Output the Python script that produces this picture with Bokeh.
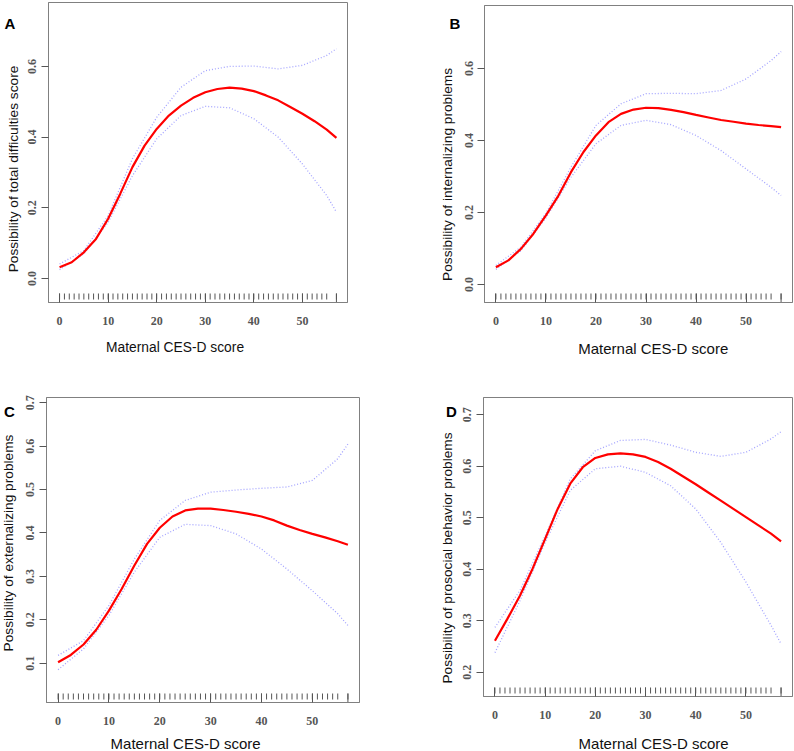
import math
from bokeh.plotting import figure
from bokeh.models import Range1d, FixedTicker, PrintfTickFormatter
from bokeh.layouts import column, row
from bokeh.core.properties import value
from bokeh.embed import file_html
from bokeh.resources import INLINE

# ---------------- data ----------------
x_fit = [0, 2.5, 5, 7.5, 10, 12.5, 15, 17.5, 20, 22.5, 25, 27.5, 30, 32.5,
         35, 37.5, 40, 42.5, 45, 47.5, 50, 52.5, 55, 57]
x_ci = [0, 5, 10, 15, 20, 25, 30, 35, 40, 45, 50, 55, 57]
rug_x = list(range(0, 56)) + [57]
x_ticks = [0, 10, 20, 30, 40, 50]

A_fit = [0.032, 0.046, 0.074, 0.112, 0.169, 0.240, 0.315, 0.376, 0.423, 0.461, 0.489, 0.511,
         0.527, 0.536, 0.540, 0.537, 0.530, 0.518, 0.504, 0.485, 0.466, 0.445, 0.421, 0.398]
A_hi = [0.041, 0.079, 0.178, 0.339, 0.456, 0.541, 0.588, 0.600, 0.601, 0.593, 0.603, 0.631, 0.650]
A_lo = [0.025, 0.070, 0.159, 0.291, 0.395, 0.461, 0.487, 0.483, 0.452, 0.400, 0.324, 0.235, 0.188]

B_fit = [0.048, 0.067, 0.099, 0.141, 0.192, 0.247, 0.312, 0.368, 0.414, 0.451, 0.474, 0.486,
         0.491, 0.490, 0.485, 0.479, 0.471, 0.464, 0.457, 0.452, 0.447, 0.443, 0.440, 0.437]
B_hi = [0.053, 0.104, 0.198, 0.326, 0.442, 0.502, 0.530, 0.531, 0.530, 0.539, 0.571, 0.622, 0.647]
B_lo = [0.042, 0.094, 0.185, 0.298, 0.391, 0.442, 0.456, 0.444, 0.414, 0.372, 0.321, 0.270, 0.247]

C_fit = [0.102, 0.119, 0.143, 0.177, 0.221, 0.271, 0.325, 0.375, 0.412, 0.438, 0.452, 0.456,
         0.456, 0.453, 0.449, 0.444, 0.438, 0.429, 0.417, 0.407, 0.398, 0.390, 0.381, 0.373]
C_hi = [0.118, 0.152, 0.233, 0.340, 0.429, 0.475, 0.494, 0.499, 0.503, 0.506, 0.521, 0.571, 0.605]
C_lo = [0.085, 0.133, 0.210, 0.310, 0.390, 0.420, 0.417, 0.398, 0.363, 0.317, 0.267, 0.214, 0.187]

D_fit = [0.261, 0.304, 0.349, 0.401, 0.459, 0.517, 0.566, 0.598, 0.616, 0.623, 0.625, 0.623,
         0.618, 0.608, 0.595, 0.580, 0.565, 0.549, 0.533, 0.517, 0.501, 0.485, 0.469, 0.454]
D_hi = [0.287, 0.359, 0.465, 0.575, 0.630, 0.650, 0.652, 0.641, 0.627, 0.619, 0.627, 0.653, 0.667]
D_lo = [0.238, 0.339, 0.452, 0.553, 0.595, 0.600, 0.588, 0.562, 0.517, 0.452, 0.375, 0.291, 0.255]

A_yticks = [0.0, 0.2, 0.4, 0.6]
B_yticks = [0.0, 0.2, 0.4, 0.6]
C_yticks = [0.1, 0.2, 0.3, 0.4, 0.5, 0.6, 0.7]
D_yticks = [0.2, 0.3, 0.4, 0.5, 0.6, 0.7]

x_title = "Maternal CES-D score"
A_ytitle = "Possibility of total difficulties score"
B_ytitle = "Possibility of internalizing  problems"
C_ytitle = "Possibility of externalizing problems"
D_ytitle = "Possibility of prosocial behavior problems"

# ---------------- layout config ----------------
# sw: left strip width (y-title + letter), mh: main figure height, sh: bottom strip height
panels = [
    dict(letter="A", fit=A_fit, hi=A_hi, lo=A_lo, yticks=A_yticks, ytitle=A_ytitle,
         ox=0, oy=0, w=400, h=370, sw=22, mh=335, bl=26, br=53, bt=2, bb=33,
         yr=(-0.0679, 0.7808),
         ytitle_pos=(13, 168.5), xtitle_pos=(182, 347), letter_pos=(9.5, 22.5), xfs="13.8px"),
    dict(letter="B", fit=B_fit, hi=B_hi, lo=B_lo, yticks=B_yticks, ytitle=B_ytitle,
         ox=400, oy=0, w=394, h=370, sw=60, mh=335, bl=24, br=2, bt=5, bb=33,
         yr=(-0.05, 0.775),
         ytitle_pos=(447, 172), xtitle_pos=(643, 348), letter_pos=(454.5, 22.5), xfs="15px"),
    dict(letter="C", fit=C_fit, hi=C_hi, lo=C_lo, yticks=C_yticks, ytitle=C_ytitle,
         ox=0, oy=370, w=400, h=381, sw=22, mh=362, bl=24, br=41, bt=27, bb=30,
         yr=(0.0094, 0.7122),
         ytitle_pos=(7.5, 542.5), xtitle_pos=(190, 743), letter_pos=(9, 411), xfs="15px"),
    dict(letter="D", fit=D_fit, hi=D_hi, lo=D_lo, yticks=D_yticks, ytitle=D_ytitle,
         ox=400, oy=370, w=394, h=381, sw=58, mh=362, bl=25, br=2, bt=27, bb=36,
         yr=(0.1528, 0.7334),
         ytitle_pos=(447, 557.5), xtitle_pos=(643, 743), letter_pos=(451, 411), xfs="15px"),
]

FRAME = "#808080"
TICKC = "#555555"
TEXTC = "#111111"


def blank(w, h):
    s = figure(width=w, height=h, output_backend="svg", toolbar_location=None,
               x_range=Range1d(0, w), y_range=Range1d(0, h),
               min_border=0, min_border_left=0, min_border_right=0,
               min_border_top=0, min_border_bottom=0)
    s.axis.visible = False
    s.grid.visible = False
    s.outline_line_color = None
    s.background_fill_color = "white"
    s.border_fill_color = "white"
    return s


def make_panel(c):
    mw = c["w"] - c["sw"]
    fh = c["mh"] - c["bt"] - c["bb"]
    p = figure(width=mw, height=c["mh"], output_backend="svg", toolbar_location=None,
               x_range=Range1d(-2.28, 59.28), y_range=Range1d(*c["yr"]),
               min_border_left=c["bl"], min_border_right=c["br"],
               min_border_top=c["bt"], min_border_bottom=c["bb"])
    p.xgrid.visible = False
    p.ygrid.visible = False
    p.outline_line_color = FRAME
    p.outline_line_width = 1
    p.background_fill_color = "white"
    p.border_fill_color = "white"

    xa = p.xaxis[0]
    xa.ticker = FixedTicker(ticks=x_ticks)
    xa.major_tick_in = 9
    xa.major_tick_out = 0
    xa.minor_tick_line_color = None
    xa.axis_line_color = FRAME
    xa.major_tick_line_color = TICKC
    xa.major_label_text_font = "Liberation Serif"
    xa.major_label_text_font_size = "12px"
    xa.major_label_text_font_style = "bold"
    xa.major_label_text_color = TICKC
    xa.major_label_standoff = 14

    ya = p.yaxis[0]
    ya.ticker = FixedTicker(ticks=c["yticks"])
    ya.formatter = PrintfTickFormatter(format="%.1f")
    ya.major_tick_in = 0
    ya.major_tick_out = 7
    ya.minor_tick_line_color = None
    ya.axis_line_color = FRAME
    ya.major_tick_line_color = TICKC
    ya.major_label_orientation = "vertical"
    ya.major_label_text_font = "Liberation Serif"
    ya.major_label_text_font_size = "12px"
    ya.major_label_text_font_style = "bold"
    ya.major_label_text_color = TICKC
    ya.major_label_standoff = 5

    # rug (pixel-height range for tick lengths)
    p.extra_y_ranges = {"px": Range1d(0, fh)}
    p.segment(x0=rug_x, y0=[3] * len(rug_x), x1=rug_x, y1=[9] * len(rug_x),
              y_range_name="px", line_color=TICKC, line_width=1)
    xmax = [max(rug_x)]
    p.segment(x0=xmax, y0=[0], x1=xmax, y1=[9], y_range_name="px",
              line_color=TICKC, line_width=1)

    # curves
    p.line(x_ci, c["hi"], line_color="#a4a4ff", line_width=1.3, line_dash="1 2")
    p.line(x_ci, c["lo"], line_color="#a4a4ff", line_width=1.3, line_dash="1 2")
    p.line(x_fit, c["fit"], line_color="#ff0000", line_width=2.2)

    # left strip: y-title and panel letter
    sl = blank(c["sw"], c["h"])
    bottom_g = c["oy"] + c["h"]
    tx, ty = c["ytitle_pos"]
    sl.text(x=[tx - c["ox"]], y=[bottom_g - ty], text=[c["ytitle"]], angle=math.pi / 2,
            text_align="center", text_baseline="middle",
            text_font=value("Liberation Sans"), text_font_size=value("13.7px"),
            text_color=TEXTC)
    lx, ly = c["letter_pos"]
    sl.text(x=[lx - c["ox"]], y=[bottom_g - ly], text=[c["letter"]],
            text_align="center", text_baseline="middle",
            text_font=value("Liberation Sans"), text_font_size=value("15px"),
            text_font_style="bold", text_color="#000000")

    # bottom strip: x-title
    sh = c["h"] - c["mh"]
    sb = blank(mw, sh)
    bx, by = c["xtitle_pos"]
    sb.text(x=[bx - c["ox"] - c["sw"]], y=[bottom_g - by], text=[x_title],
            text_align="center", text_baseline="middle",
            text_font=value("Liberation Sans"), text_font_size=value(c["xfs"]),
            text_color=TEXTC)

    return row(sl, column(p, sb))


blocks = [make_panel(c) for c in panels]
layout = column(row(blocks[0], blocks[1]), row(blocks[2], blocks[3]))

open("out.html", "w").write(file_html(layout, INLINE))
